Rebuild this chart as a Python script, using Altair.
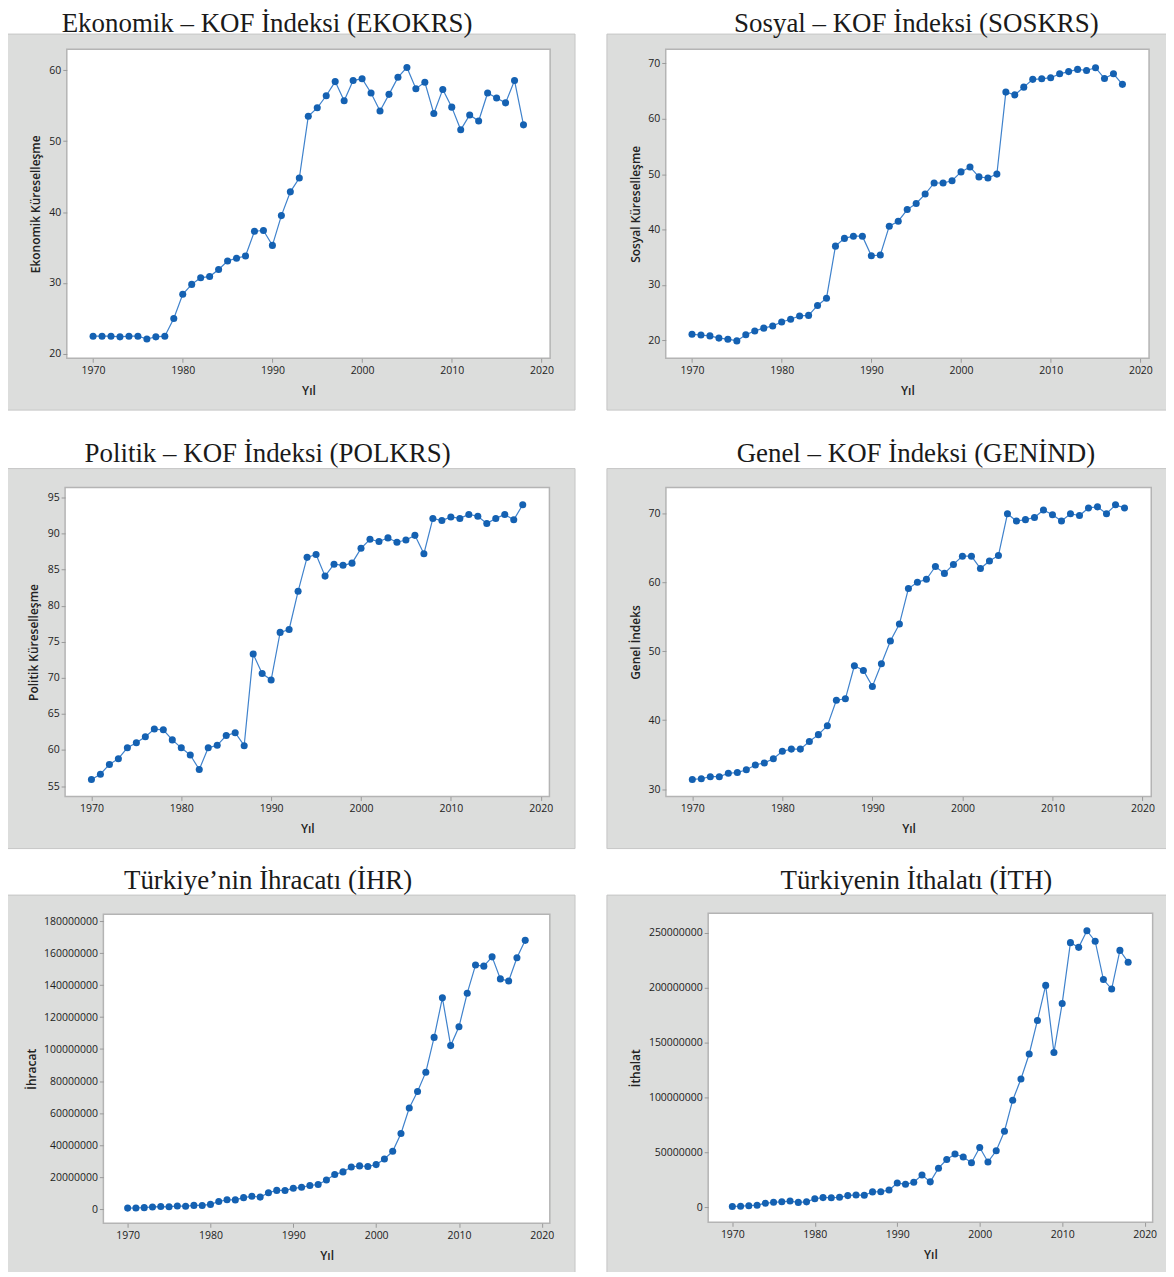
import altair as alt
import pandas as pd

years = list(range(1970, 2019))

ekonomik = [22.5, 22.5, 22.5, 22.4, 22.5, 22.5, 22.1, 22.4, 22.5, 25.0,
            28.4, 29.8, 30.75, 30.9, 31.9, 33.1, 33.5, 33.8, 37.3, 37.4,
            35.3, 39.5, 42.85, 44.8, 53.5, 54.7, 56.4, 58.4, 55.7, 58.55,
            58.8, 56.8, 54.25, 56.6, 59.0, 60.4, 57.4, 58.3, 53.9, 57.3,
            54.8, 51.6, 53.7, 52.85, 56.8, 56.1, 55.4, 58.55, 52.3]

sosyal = [21.1, 20.95, 20.8, 20.4, 20.2, 19.9, 21.0, 21.7, 22.2, 22.6,
          23.3, 23.8, 24.4, 24.5, 26.3, 27.6, 37.0, 38.4, 38.8, 38.8,
          35.25, 35.4, 40.6, 41.5, 43.6, 44.7, 46.4, 48.4, 48.4, 48.8,
          50.4, 51.3, 49.5, 49.3, 50.0, 64.8, 64.3, 65.7, 67.1, 67.2,
          67.4, 68.1, 68.5, 68.9, 68.7, 69.2, 67.25, 68.1, 66.2]

politik = [55.9, 56.65, 58.0, 58.8, 60.3, 61.0, 61.85, 62.9, 62.8, 61.4,
           60.3, 59.3, 57.3, 60.3, 60.65, 62.0, 62.4, 60.6, 73.3, 70.6,
           69.7, 76.3, 76.7, 82.0, 86.7, 87.1, 84.1, 85.75, 85.6, 85.9,
           87.95, 89.2, 88.9, 89.4, 88.8, 89.1, 89.75, 87.2, 92.1, 91.8,
           92.3, 92.1, 92.65, 92.4, 91.4, 92.1, 92.65, 91.9, 94.0]

genel = [31.4, 31.5, 31.8, 31.8, 32.3, 32.4, 32.8, 33.5, 33.8, 34.4,
         35.5, 35.8, 35.8, 36.9, 37.9, 39.2, 42.9, 43.1, 47.9, 47.2,
         44.9, 48.2, 51.5, 53.95, 59.1, 60.0, 60.45, 62.3, 61.3, 62.6,
         63.8, 63.8, 62.0, 63.1, 63.9, 69.95, 68.9, 69.1, 69.4, 70.5,
         69.8, 68.9, 69.95, 69.7, 70.8, 70.95, 69.95, 71.25, 70.8]

ihracat = [588000, 677000, 885000, 1317000, 1532000, 1401000, 1960000, 1753000, 2288000, 2261000,
           2910000, 4703000, 5746000, 5728000, 7134000, 7958000, 7457000, 10190000, 11662000, 11625000,
           12959000, 13593000, 14715000, 15345000, 18106000, 21637000, 23224000, 26261000, 26974000, 26587000,
           27775000, 31334000, 36059000, 47253000, 63167000, 73476000, 85535000, 107272000, 132027000, 102143000,
           113883000, 134907000, 152462000, 151803000, 157610000, 143839000, 142530000, 156993000, 167921000]

ithalat = [948000, 1171000, 1563000, 2086000, 3778000, 4739000, 5129000, 5796000, 4599000, 5069000,
           7909000, 8933000, 8843000, 9235000, 10757000, 11343000, 11105000, 14158000, 14335000, 15792000,
           22302000, 21047000, 22871000, 29428000, 23270000, 35709000, 43627000, 48559000, 45921000, 40671000,
           54503000, 41399000, 51554000, 69340000, 97540000, 116774000, 139576000, 170063000, 201964000, 140928000,
           185544000, 240842000, 236545000, 251661000, 242177000, 207234000, 198618000, 233800000, 223047000]

titles = ["Ekonomik – KOF İndeksi (EKOKRS)", "Sosyal – KOF İndeksi (SOSKRS)",
          "Politik – KOF İndeksi (POLKRS)", "Genel – KOF İndeksi (GENİND)",
          "Türkiye’nin İhracatı (İHR)", "Türkiyenin İthalatı (İTH)"]
ylabels = ["Ekonomik Küreselleşme", "Sosyal Küreselleşme", "Politik Küreselleşme",
           "Genel İndeks", "İhracat", "İthalat"]
xticks = [1970, 1980, 1990, 2000, 2010, 2020]

H = 310          # plot (white) area height
TOP = 30         # white space reserved above each grey box for its title
POINT_COLOR = "#1461b2"
LINE_COLOR = "#3f82cc"
GRAY = "#dcdddc"


def panel(values, title, ylabel, ydom, yticks, W, L, GW, GH, GT, tx, ytx, extra=0.0, tdy=-6.6):
    """One grey Minitab-style panel; the view origin is the grey box's top-left corner."""
    df = pd.DataFrame({"Yıl": years, "v": values})
    one = pd.DataFrame({"k": [0]})
    top_space = alt.Chart(one).mark_rect(fill="white", strokeWidth=0).encode(
        x=alt.value(0), x2=alt.value(GW), y=alt.value(-TOP), y2=alt.value(0))
    bottom_space = alt.Chart(one).mark_rect(fill="white", strokeWidth=0).encode(
        x=alt.value(0), x2=alt.value(GW), y=alt.value(GH + 0.5), y2=alt.value(GH + 0.5 + extra))
    gray = alt.Chart(one).mark_rect(fill=GRAY, stroke="#c6c6c6", strokeWidth=1).encode(
        x=alt.value(0), x2=alt.value(GW), y=alt.value(0), y2=alt.value(GH))
    white = alt.Chart(one).mark_rect(fill="white", stroke="#b4b4b4", strokeWidth=1.5).encode(
        x=alt.value(L), x2=alt.value(L + W), y=alt.value(GT), y2=alt.value(GT + H))
    ttl = alt.Chart(pd.DataFrame({"t": [title]})).mark_text(
        font="Liberation Serif", fontSize=27, color="#1a1a1a", align="center",
        baseline="alphabetic").encode(x=alt.value(tx), y=alt.value(tdy), text="t:N")
    GB = GH - GT - H
    xenc = alt.X("Yıl:Q",
                 scale=alt.Scale(domain=[1967.07, 2020.97], range=[L, L + W], nice=False, zero=False),
                 axis=alt.Axis(values=xticks, title="Yıl", format="d", zindex=1, offset=-GB,
                               titleX=L + W / 2, titleY=32, titleBaseline="middle"))
    yenc = alt.Y("v:Q",
                 scale=alt.Scale(domain=ydom, range=[GT + H, GT], nice=False, zero=False),
                 axis=alt.Axis(values=yticks, title=ylabel, format="d", zindex=1, offset=-L,
                               titleX=ytx, titleY=GT + H / 2, titleBaseline="middle"))
    base = alt.Chart(df).encode(x=xenc, y=yenc)
    line = base.mark_line(color=LINE_COLOR, strokeWidth=1.2)
    pts = base.mark_circle(color=POINT_COLOR, size=50, opacity=1)
    layers = [top_space, gray, white, line, pts, ttl]
    if extra > 0:
        layers.insert(1, bottom_space)
    return alt.layer(*layers).properties(width=GW, height=GH)


p1 = panel(ekonomik, titles[0], ylabels[0], [19.38, 62.95], [20, 30, 40, 50, 60],
           W=485, L=60, GW=570, GH=377.3, GT=15.3, tx=261, ytx=-31, extra=11.4, tdy=-2.2)
p2 = panel(sosyal, titles[1], ylabels[1], [16.76, 72.52], [20, 30, 40, 50, 60, 70],
           W=485, L=59, GW=568, GH=377.3, GT=15.3, tx=310.5, ytx=-30.5, extra=11.4, tdy=-2.2)
p3 = panel(politik, titles[2], ylabels[2], [53.56, 96.38], [55, 60, 65, 70, 75, 80, 85, 90, 95],
           W=486, L=58.3, GW=570, GH=381.3, GT=19, tx=261.5, ytx=-31.3)
p4 = panel(genel, titles[3], ylabels[3], [28.93, 73.76], [30, 40, 50, 60, 70],
           W=487, L=59.2, GW=568, GH=381.3, GT=19, tx=310, ytx=-31)
p5 = panel(ihracat, titles[4], ylabels[4], [-8.9e6, 184.17e6],
           [0, 20000000, 40000000, 60000000, 80000000, 100000000, 120000000, 140000000, 160000000, 180000000],
           W=448, L=96.7, GW=570, GH=383, GT=19.3, tx=262, ytx=-71.7)
p6 = panel(ithalat, titles[5], ylabels[5], [-13.5e6, 267.47e6],
           [0, 50000000, 100000000, 150000000, 200000000, 250000000],
           W=446, L=101.6, GW=568, GH=383, GT=18.3, tx=310.5, ytx=-72.8)

chart = alt.concat(p1, p2, p3, p4, p5, p6, columns=2, align="each",
                   spacing={"row": 16, "column": 30}).properties(
    padding={"left": -2, "top": -6, "right": -8, "bottom": -8},
    background="white",
).configure_view(stroke=None).configure_axis(
    labelFont="Open Sans", labelFontSize=10.5, labelColor="#222222",
    titleFont="Open Sans", titleFontSize=12, titleFontWeight=600, titleColor="#222222",
    tickColor="#9a9a9a", tickSize=4, domain=False, grid=False, labelPadding=2,
).configure_axisX(labelPadding=3)

chart.save("out.html", embed_options={"renderer": "svg", "actions": False})
